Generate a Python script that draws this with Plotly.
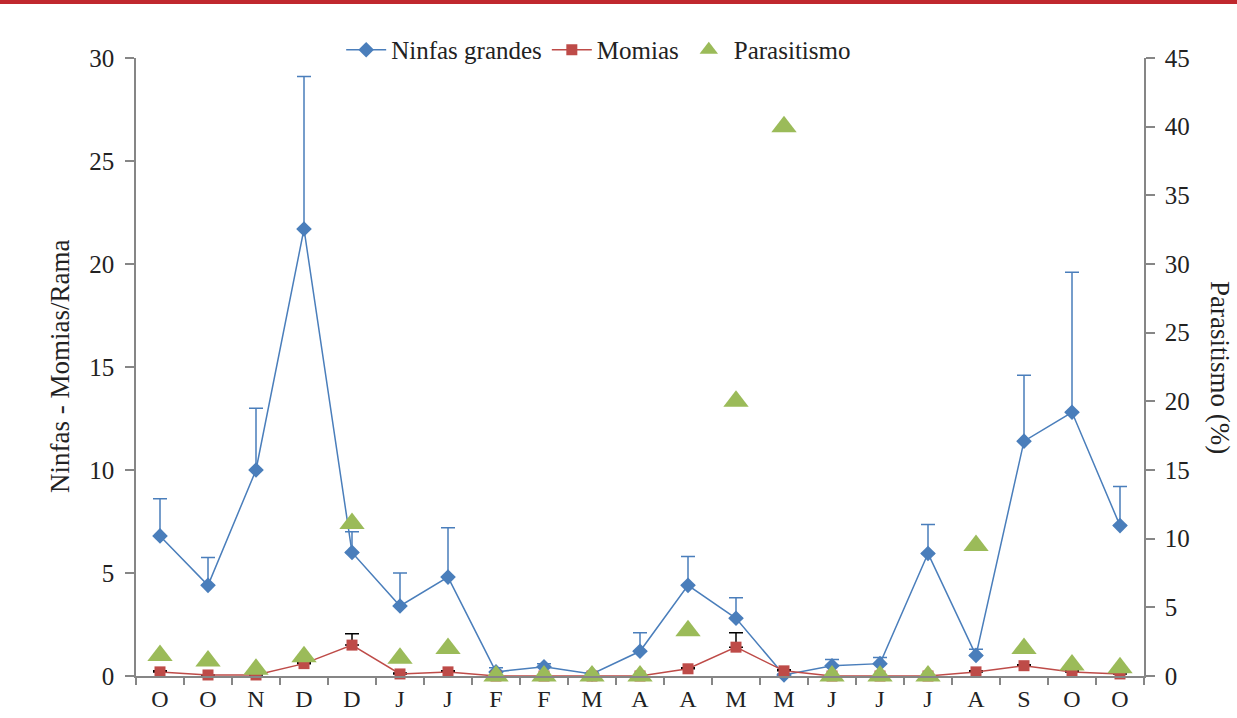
import plotly.graph_objects as go

months = ["O", "O", "N", "D", "D", "J", "J", "F", "F", "M", "A", "A", "M", "M", "J", "J", "J", "A", "S", "O", "O"]
ninfas = [6.8, 4.4, 10.0, 21.7, 6.0, 3.4, 4.8, 0.2, 0.45, 0.1, 1.2, 4.4, 2.8, 0.05, 0.5, 0.6, 5.95, 1.0, 11.4, 12.8, 7.3]
ninfas_err = [1.8, 1.35, 3.0, 7.4, 1.0, 1.6, 2.4, 0.2, 0.15, 0.05, 0.9, 1.4, 1.0, 0.05, 0.3, 0.3, 1.4, 0.3, 3.2, 6.8, 1.9]
momias = [0.2, 0.05, 0.05, 0.6, 1.5, 0.1, 0.2, 0.0, 0.0, 0.0, 0.0, 0.35, 1.4, 0.25, 0.0, 0.0, 0.0, 0.2, 0.5, 0.2, 0.1]
momias_err = [0.05, 0.0, 0.0, 0.05, 0.55, 0.05, 0.05, 0.0, 0.0, 0.0, 0.0, 0.05, 0.7, 0.05, 0.0, 0.0, 0.0, 0.05, 0.05, 0.05, 0.0]
parasitismo = [1.5, 1.1, 0.5, 1.4, 11.1, 1.3, 2.0, 0.0, 0.0, 0.0, 0.0, 3.3, 20.0, 40.0, 0.0, 0.0, 0.0, 9.5, 2.0, 0.8, 0.6]
left_ticks = [0, 5, 10, 15, 20, 25, 30]
right_ticks = [0, 5, 10, 15, 20, 25, 30, 35, 40, 45]

x = list(range(len(months)))
BLUE = "#4a7ebb"
RED = "#be4b48"
GREEN = "#9bbb59"
AXIS = "#868686"
FONT = "Liberation Serif, Times New Roman, DejaVu Serif, serif"
TXT = "#222"

fig = go.Figure()
fig.add_trace(go.Scatter(
    x=x, y=ninfas, name="Ninfas grandes", mode="lines+markers",
    line=dict(color=BLUE, width=1.5),
    marker=dict(symbol="diamond", size=12, color=BLUE),
    error_y=dict(type="data", symmetric=False, array=ninfas_err,
                 arrayminus=[0] * len(ninfas), color=BLUE, thickness=1.5, width=7),
    cliponaxis=False,
))
fig.add_trace(go.Scatter(
    x=x, y=momias, name="Momias", mode="lines+markers",
    line=dict(color=RED, width=1.5),
    marker=dict(symbol="square", size=11, color=RED),
    error_y=dict(type="data", symmetric=False, array=momias_err,
                 arrayminus=[0] * len(momias), color="black", thickness=1.5, width=7),
    cliponaxis=False,
))
fig.add_trace(go.Scatter(
    x=x, y=parasitismo, name="Parasitismo", mode="markers",
    marker=dict(symbol="triangle-up", size=22, color=GREEN),
    yaxis="y2", cliponaxis=False,
))
# invisible trace to drive the boundary-ticks axis
fig.add_trace(go.Scatter(x=[-0.5, 20.5], y=[0, 0], xaxis="x2", mode="markers",
                         marker=dict(opacity=0), showlegend=False, hoverinfo="skip"))

fig.update_layout(
    width=1237, height=718,
    margin=dict(l=136, r=93, t=58, b=42),
    paper_bgcolor="white", plot_bgcolor="white",
    font=dict(family=FONT, size=24, color=TXT),
    showlegend=True,
    legend=dict(orientation="h", x=0.459, xanchor="center", y=1.013, yanchor="middle",
                font=dict(family=FONT, size=25, color=TXT), bgcolor="rgba(0,0,0,0)",
                itemwidth=40, tracegroupgap=0),
    xaxis=dict(range=[-0.5, 20.5], tickmode="array", tickvals=x, ticktext=months,
               showgrid=False, zeroline=False, showline=True, linecolor=AXIS, linewidth=1.5,
               ticks="", automargin=False, ticklabelstandoff=0,
               tickfont=dict(family=FONT, size=24, color=TXT)),
    xaxis2=dict(range=[-0.5, 20.5], overlaying="x", tickmode="array",
                tickvals=[i - 0.5 for i in range(len(months) + 1)], showticklabels=False,
                ticks="outside", ticklen=8, tickcolor=AXIS, tickwidth=1.5, automargin=False,
                showgrid=False, zeroline=False, side="bottom", anchor="y"),
    yaxis=dict(range=[0, 30], tickvals=left_ticks, showgrid=False, zeroline=False,
               showline=True, linecolor=AXIS, linewidth=1.5, ticks="outside", ticklen=9,
               tickcolor=AXIS, tickwidth=1.5, ticklabelstandoff=6, automargin=False,
               tickfont=dict(family=FONT, size=25, color=TXT)),
    yaxis2=dict(range=[0, 45], tickvals=right_ticks, overlaying="y", side="right",
                showgrid=False, zeroline=False, showline=True, linecolor=AXIS, linewidth=1.5,
                ticks="outside", ticklen=9, tickcolor=AXIS, tickwidth=1.5, ticklabelstandoff=5,
                automargin=False, tickfont=dict(family=FONT, size=25, color=TXT)),
    shapes=[dict(type="line", xref="paper", yref="paper", x0=-0.2, x1=1.2,
                 y0=1.0 + 56 / 618, y1=1.0 + 56 / 618,
                 line=dict(color="#c0282e", width=4))],
    annotations=[
        dict(text="Ninfas - Momias/Rama", xref="paper", yref="paper",
             x=-76 / 1008, y=0.5, textangle=-90, showarrow=False,
             xanchor="center", yanchor="middle", font=dict(family=FONT, size=27, color=TXT)),
        dict(text="Parasitismo (%)", xref="paper", yref="paper",
             x=1 + 76 / 1008, y=0.5, textangle=90, showarrow=False,
             xanchor="center", yanchor="middle", font=dict(family=FONT, size=27, color=TXT)),
    ],
)

fig.write_html("out.html", config={"displayModeBar": False},
               post_script="document.body.style.margin='0';document.body.style.overflow='hidden';")
